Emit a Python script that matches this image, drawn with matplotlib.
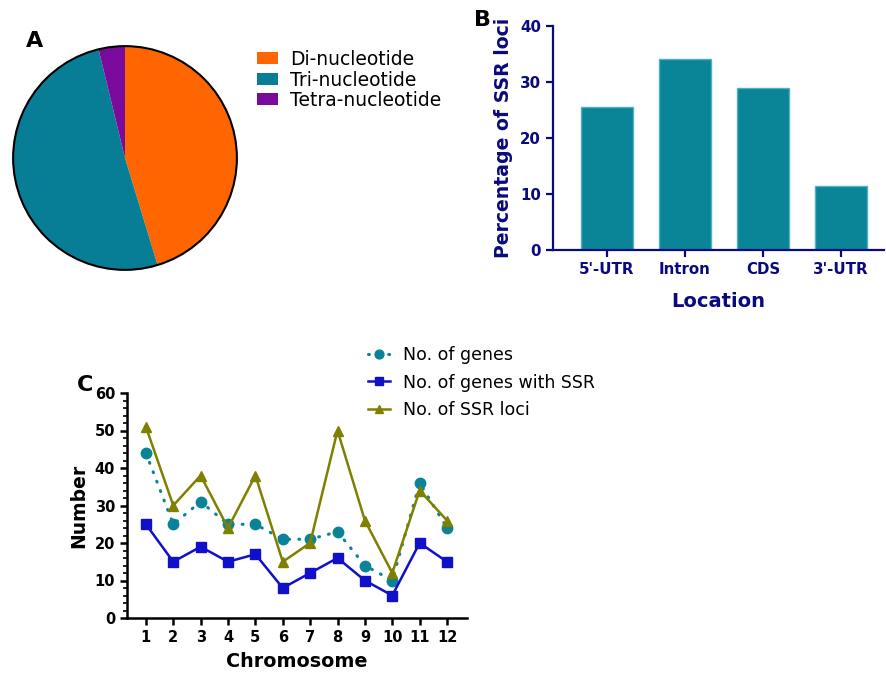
import matplotlib
matplotlib.use("Agg")
import matplotlib.pyplot as plt
import numpy as np

# ---- data ----
pie_labels = ["Di-nucleotide", "Tri-nucleotide", "Tetra-nucleotide"]
pie_values = [45.3, 50.9, 3.8]
pie_colors = ["#FF6600", "#087D96", "#7A0A9B"]

loc_labels = ["5'-UTR", "Intron", "CDS", "3'-UTR"]
loc_values = [25.5, 34.1, 28.9, 11.4]

chromosomes = list(range(1, 13))
n_genes = [44, 25, 31, 25, 25, 21, 21, 23, 14, 10, 36, 24]
n_genes_ssr = [25, 15, 19, 15, 17, 8, 12, 16, 10, 6, 20, 15]
n_ssr_loci = [51, 30, 38, 24, 38, 15, 20, 50, 26, 12, 34, 26]

W, H = 886, 674
fig = plt.figure(figsize=(W / 100, H / 100), dpi=100)

def rect(x0, y0, x1, y1):
    return [x0 / W, 1 - y1 / H, (x1 - x0) / W, (y1 - y0) / H]

navy = "#0A0A80"

# ---- Panel A ----
axA = fig.add_axes(rect(12, 45, 238, 271))
wedges, _ = axA.pie(pie_values, colors=pie_colors, startangle=90, counterclock=False,
                    wedgeprops=dict(linewidth=0))
circle = plt.Circle((0, 0), 1, fill=False, edgecolor="black", linewidth=1.5)
axA.add_patch(circle)
axA.set_xlim(-1.01, 1.01)
axA.set_ylim(-1.01, 1.01)
axA.set_aspect("equal")
axA.axis("off")
fig.legend(wedges, pie_labels, loc="upper left", bbox_to_anchor=(257 / W, 1 - 50 / H),
           frameon=False, fontsize=13.5, handlelength=1.1, handleheight=0.6,
           labelspacing=0.08, handletextpad=0.65, borderaxespad=0, borderpad=0)
fig.text(35 / W, 1 - 41 / H, "A", fontsize=16, fontweight="bold", ha="center", va="center")

# ---- Panel B ----
axB = fig.add_axes(rect(553, 26, 884, 250))
xB = np.arange(len(loc_labels))
axB.bar(xB, loc_values, width=0.66, color="#0A8598", edgecolor="#52B0C0", linewidth=1.0)
axB.set_xlim(-0.69, 3.55)
axB.set_ylim(0, 40)
axB.set_yticks([0, 10, 20, 30, 40])
axB.set_xticks(xB)
axB.set_xticklabels(loc_labels)
for s in ["top", "right"]:
    axB.spines[s].set_visible(False)
for s in ["left", "bottom"]:
    axB.spines[s].set_color(navy)
    axB.spines[s].set_linewidth(1.6)
axB.tick_params(colors=navy, width=1.6, length=5, labelsize=10.8, direction="out")
for lbl in axB.get_xticklabels() + axB.get_yticklabels():
    lbl.set_fontweight("bold")
    lbl.set_color(navy)
axB.set_xlabel("Location", fontsize=14, fontweight="bold", color=navy, labelpad=11)
axB.set_ylabel("Percentage of SSR loci", fontsize=13.6, fontweight="bold", color=navy, labelpad=5)
fig.text(482 / W, 1 - 20 / H, "B", fontsize=16, fontweight="bold", ha="center", va="center")

# ---- Panel C ----
axC = fig.add_axes(rect(127, 393, 467, 618))
l1, = axC.plot(chromosomes, n_genes, linestyle=(0, (0.3, 3.0)), linewidth=2.2, color="#0A8398",
               dash_capstyle="round", marker="o", markersize=7.5, label="No. of genes")
l2, = axC.plot(chromosomes, n_genes_ssr, linestyle="-", linewidth=1.8, color="#1010C8",
               marker="s", markersize=7, label="No. of genes with SSR")
l3, = axC.plot(chromosomes, n_ssr_loci, linestyle="-", linewidth=1.8, color="#808000",
               marker="^", markersize=7, label="No. of SSR loci")
axC.set_xlim(0.31, 12.73)
axC.set_ylim(0, 60)
axC.set_xticks(chromosomes)
axC.set_yticks([0, 10, 20, 30, 40, 50, 60])
axC.set_yticks(np.arange(0, 61, 2), minor=True)
for s in ["top", "right"]:
    axC.spines[s].set_visible(False)
for s in ["left", "bottom"]:
    axC.spines[s].set_linewidth(1.8)
axC.tick_params(which="major", width=1.8, length=5, labelsize=10.5, direction="out")
axC.tick_params(which="minor", width=1.2, length=3, direction="out")
for lbl in axC.get_xticklabels() + axC.get_yticklabels():
    lbl.set_fontweight("bold")
axC.set_xlabel("Chromosome", fontsize=13.8, fontweight="bold", labelpad=5)
axC.set_ylabel("Number", fontsize=13.5, fontweight="bold", labelpad=5)
fig.legend(handles=[l1, l2, l3], loc="upper left", bbox_to_anchor=(368 / W, 1 - 346 / H),
           frameon=False, fontsize=12.5, handlelength=1.25, labelspacing=0.55,
           handletextpad=0.75, borderaxespad=0, borderpad=0, markerscale=0.85)
fig.text(85 / W, 1 - 385 / H, "C", fontsize=16, fontweight="bold", ha="center", va="center")

fig.savefig("out.png", dpi=100)
